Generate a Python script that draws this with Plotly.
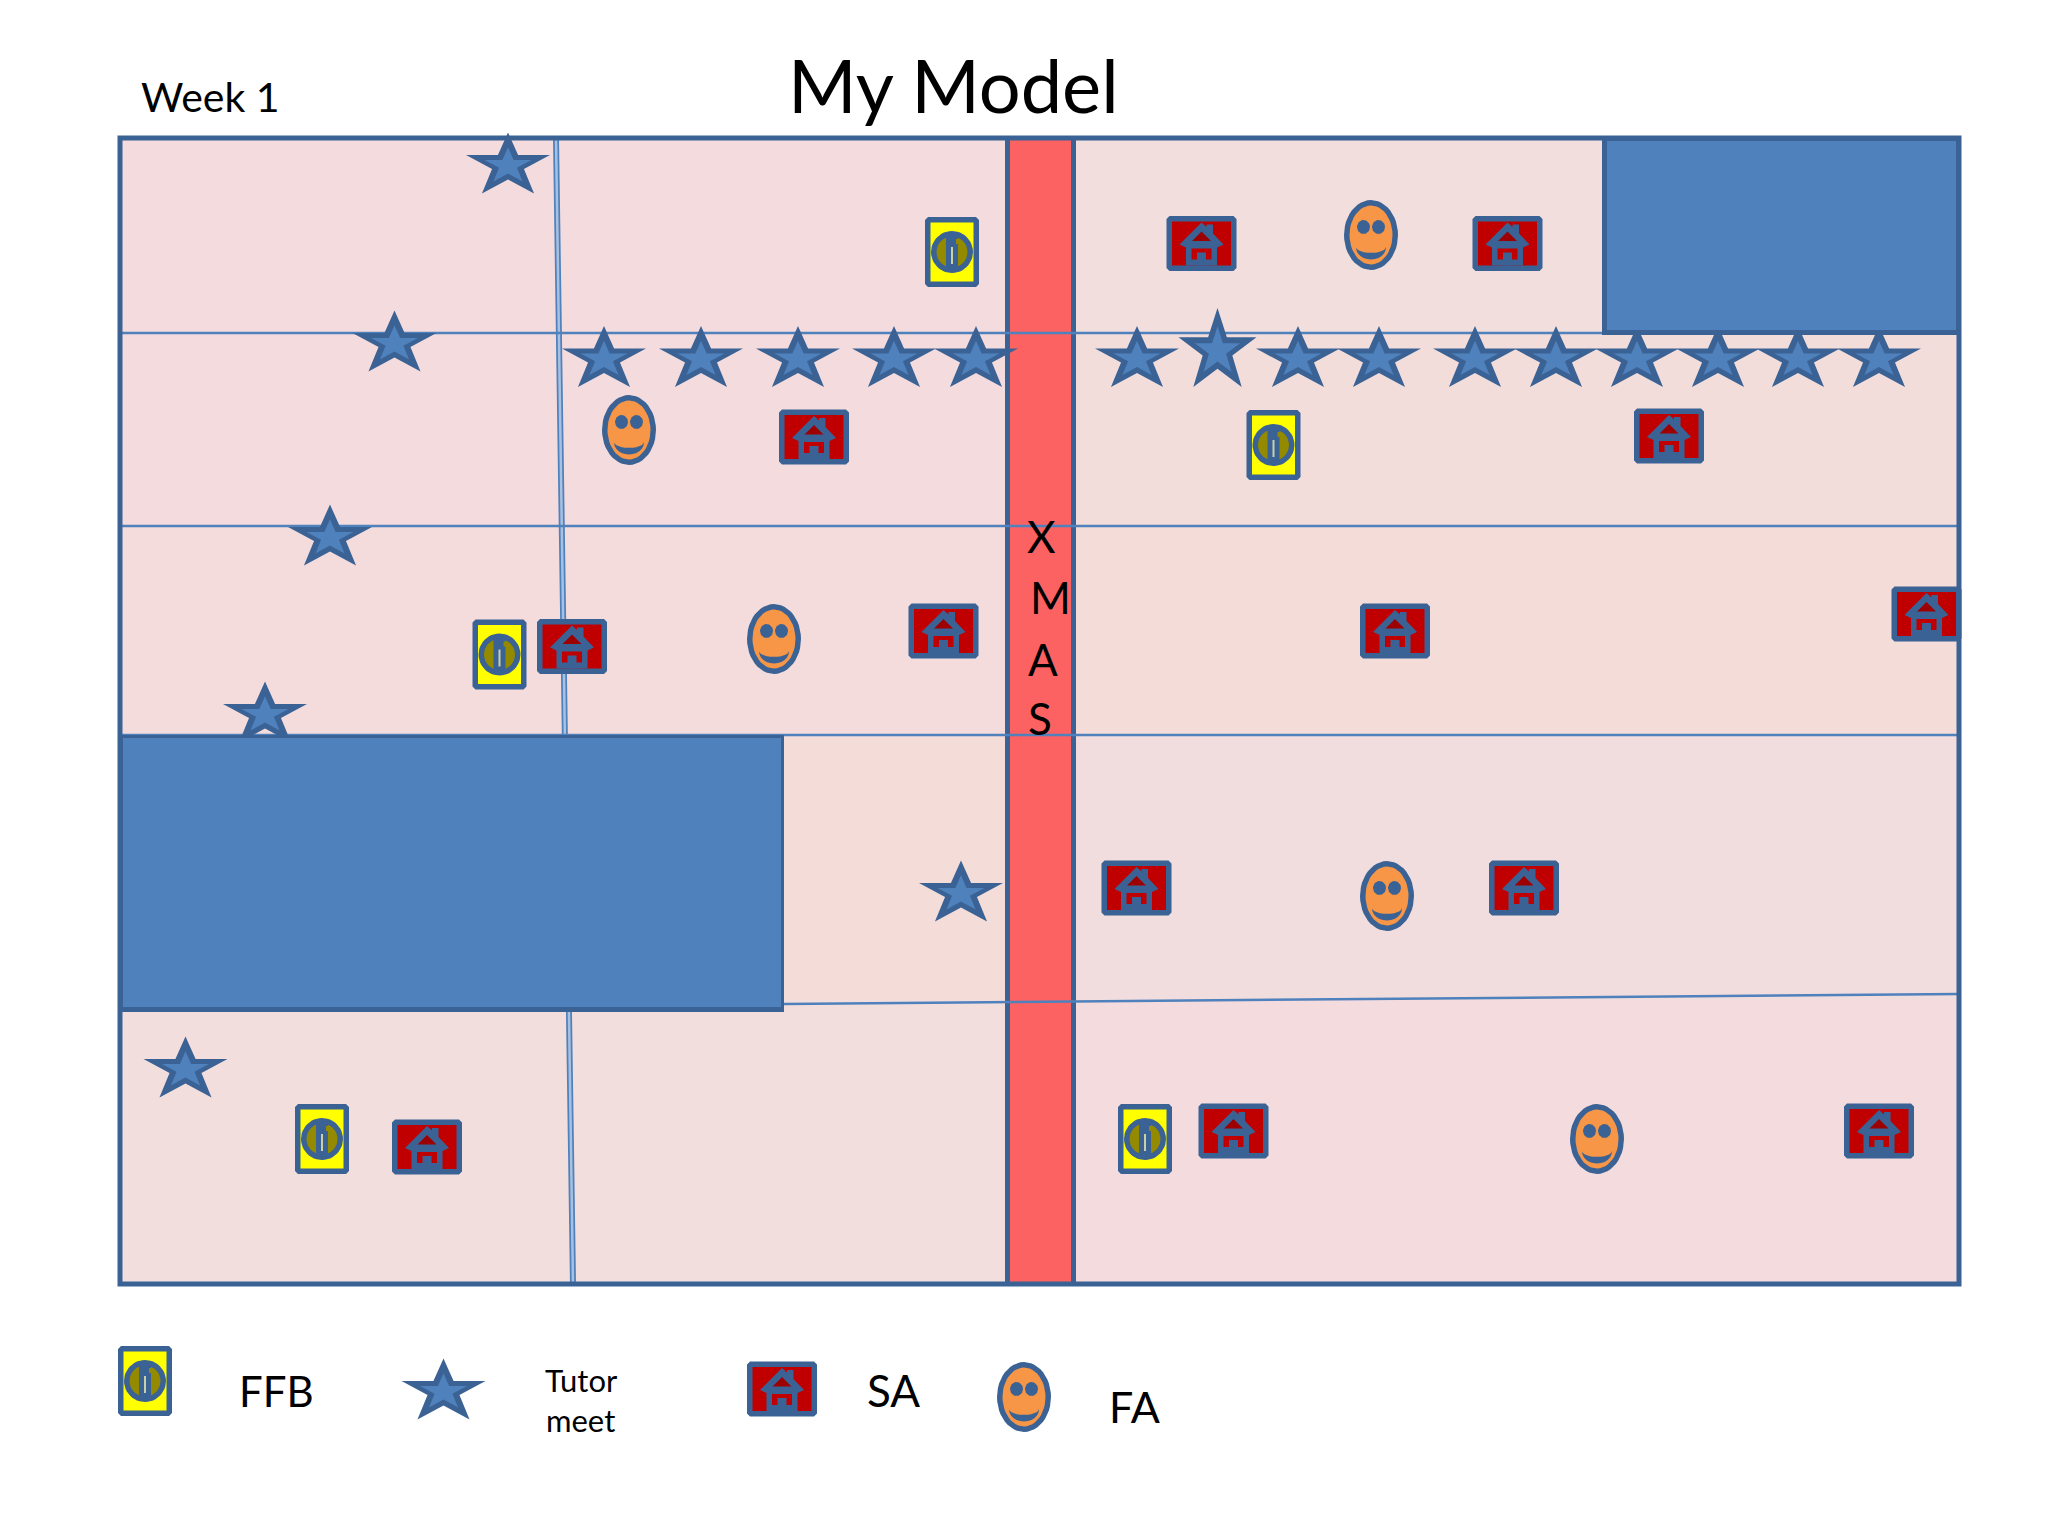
import math
import plotly.graph_objects as go

# page pixels are used as the axis units, this is a drawn diagram not a plot
W, H = 2048, 1536
FONT = "Lato"

# panel grid
panel_x = [120, 1959]
panel_y = [138, 1284]
row_lines_y = [333, 526, 735]
slant_line_x = [784, 1959]
slant_line_y = [1004, 994]
split_line_x = [556, 573]
split_line_y = [138, 1284]
xmas_x = [1007, 1074]
block_top = [1604, 1959, 138, 333]
block_left = [120, 784, 735, 1010]

# faint tint of each row, left and right of the xmas band
tint_rows = [138, 333, 526, 735, 1000, 1284]
tint_left = ["#f4dbdd", "#f4dbdd", "#f4dbdc", "#f4dcd9", "#f2dedd"]
tint_right = ["#f1dedd", "#f3dddb", "#f4dcd9", "#f1dddd", "#f4dbde"]

# tutor meet stars
star_x = [508, 394.5, 330, 265, 961, 185.5,
          604, 701, 798, 894, 976, 1137, 1298, 1379, 1475, 1556, 1637, 1718, 1798, 1879]
star_y = [163, 341, 535, 712, 891, 1067,
          356.5, 356.5, 356.5, 356.5, 356.5, 356.5, 356.5, 356.5, 356.5, 356.5, 356.5, 356.5, 356.5, 356.5]
big_star_x = [1217.5]
big_star_y = [347.5]

ffb_x = [952, 1273.5, 499.5, 322, 1145]
ffb_y = [252, 445, 654.5, 1139, 1139]

sa_x = [1201.5, 1507.5, 814, 1669, 572, 943.5, 1395, 1926.5, 1136.5, 1524, 427, 1233.5, 1879]
sa_y = [243.5, 243.5, 437, 436, 646.5, 631, 631, 614, 888, 888, 1147, 1131, 1131]

fa_x = [1371, 629, 774, 1387, 1597]
fa_y = [235, 430, 639, 896, 1139]

# legend row
legend_ffb = (145, 1381)
legend_star = (443.5, 1389)
legend_sa = (782, 1389)
legend_fa = (1024, 1397)

xmas_letters = ["X", "M", "A", "S"]
xmas_letter_x = [1041, 1050, 1043, 1040]
xmas_letter_y = [536, 597, 659, 718]

DARK = "#3b6294"
BLUE = "#4f81bd"


def rect(x0, x1, y0, y1, cut=0):
    if cut:
        return [x0 + cut, x1 - cut, x1, x1, x1 - cut, x0 + cut, x0, x0, x0 + cut, None], \
               [y0, y0, y0 + cut, y1 - cut, y1, y1, y1 - cut, y0 + cut, y0, None]
    return [x0, x1, x1, x0, x0, None], [y0, y0, y1, y1, y0, None]


def ring(x0, x1, y0, y1, t):
    # four bars, so the corners stay square
    return [rect(x0 - t, x1 + t, y0 - t, y0 + t), rect(x0 - t, x1 + t, y1 - t, y1 + t),
            rect(x0 - t, x0 + t, y0 - t, y1 + t), rect(x1 - t, x1 + t, y0 - t, y1 + t)]


def ellipse(cx, cy, rx, ry):
    xs = [cx + rx * math.cos(i * math.pi / 24) for i in range(49)] + [None]
    ys = [cy + ry * math.sin(i * math.pi / 24) for i in range(49)] + [None]
    return xs, ys


def star(cx, cy, w, h, k=1.0):
    pts = [(.5, 0), (.62, .37), (1, .37), (.69, .6), (.81, 1), (.5, .77), (.19, 1), (.31, .6), (0, .37), (.38, .37), (.5, 0)]
    xs = [cx + (px - .5) * w * k for px, py in pts] + [None]
    ys = [cy + (py - .55) * h * k + .05 * h for px, py in pts] + [None]
    return xs, ys


def smile(cx, cy):
    top = [(cx + 14.5 * math.cos(i * math.pi / 12), cy + 12.5 + 5.5 * math.sin(i * math.pi / 12)) for i in range(13)]
    low = [(cx + 15 * math.cos(i * math.pi / 12), cy + 12.5 + 12 * math.sin(i * math.pi / 12)) for i in range(13)]
    pts = top + low[::-1] + top[:1]
    return [p[0] for p in pts] + [None], [p[1] for p in pts] + [None]


def poly(pts, cx, cy):
    pts = pts + pts[:1]
    return [cx + p[0] for p in pts] + [None], [cy + p[1] for p in pts] + [None]


fig = go.Figure()


def add(parts, color):
    xs, ys = [], []
    for px, py in parts:
        xs += px
        ys += py
    fig.add_trace(go.Scatter(x=xs, y=ys, mode="lines", fill="toself", fillcolor=color,
                             line=dict(width=0, color=color), hoverinfo="skip", showlegend=False))


def add_line(x, y, color, width):
    fig.add_trace(go.Scatter(x=x, y=y, mode="lines", line=dict(color=color, width=width),
                             hoverinfo="skip", showlegend=False))


# panel and its lines
for i in range(len(tint_left)):
    add([rect(panel_x[0], xmas_x[0], tint_rows[i], tint_rows[i + 1])], tint_left[i])
    add([rect(xmas_x[1], panel_x[1], tint_rows[i], tint_rows[i + 1])], tint_right[i])
add_line(split_line_x, split_line_y, BLUE, 6)
add_line(split_line_x, split_line_y, "#a9c1e0", 2.5)

add([rect(xmas_x[0] - 2, xmas_x[1] + 2, panel_y[0], panel_y[1])], DARK)
add([rect(xmas_x[0] + 3, xmas_x[1] - 3, panel_y[0], panel_y[1])], "#fd6262")

for y in row_lines_y:
    add_line(panel_x, [y, y], BLUE, 2.5)
add_line(slant_line_x, slant_line_y, BLUE, 2.5)

# stars
sx = star_x + [legend_star[0]]
sy = star_y + [legend_star[1]]
add([star(x, y, 84, 61) for x, y in zip(sx, sy)], DARK)
add([star(x, y, 84, 61, .56) for x, y in zip(sx, sy)], BLUE)
add([star(x, y, 78, 79) for x, y in zip(big_star_x, big_star_y)], DARK)
add([star(x, y, 78, 79, .58) for x, y in zip(big_star_x, big_star_y)], BLUE)

# blue blocks sit on top of the stars
for b in (block_top, block_left):
    add([rect(b[0] - 2, b[1], b[2], b[3] + 2)], DARK)
    add([rect(b[0] + 3, b[1] - 3, b[2] + 3, b[3] - 3)], BLUE)

# panel border
add(ring(panel_x[0], panel_x[1], panel_y[0], panel_y[1], 2.5), DARK)

# FFB icons
fx = ffb_x + [legend_ffb[0]]
fy = ffb_y + [legend_ffb[1]]
add([rect(x - 27, x + 27, y - 35, y + 35, 3) for x, y in zip(fx, fy)], DARK)
add([rect(x - 21.5, x + 21.5, y - 29.5, y + 29.5) for x, y in zip(fx, fy)], "#ffff00")
add([ellipse(x, y, 21, 21) for x, y in zip(fx, fy)], DARK)
add([ellipse(x, y, 15.5, 15.5) for x, y in zip(fx, fy)], "#948a00")
add([rect(x - 6, x + 6, y - 17, y + 17) for x, y in zip(fx, fy)], DARK)
add([rect(x + 4, x + 7, y - 13, y - 8) for x, y in zip(fx, fy)], "#948a00")
add([rect(x - 1, x + 1, y - 5, y + 12) for x, y in zip(fx, fy)], "#c9cfa6")

# SA icons
hx = sa_x + [legend_sa[0]]
hy = sa_y + [legend_sa[1]]
house = [(0, -21), (5, -16.5), (5, -19), (11.5, -19), (11.5, -10), (22, 1), (15.5, 4), (15.5, 22), (-15.5, 22), (-15.5, 4), (-22, 1)]
roof = [(0, -12), (-9.5, -2.5), (9.5, -2.5)]
add([rect(x - 35, x + 35, y - 27.5, y + 27.5, 3) for x, y in zip(hx, hy)], DARK)
add([rect(x - 29.5, x + 29.5, y - 22, y + 22) for x, y in zip(hx, hy)], "#c00000")
add([poly(house, x, y) for x, y in zip(hx, hy)], DARK)
add([poly(roof, x, y) for x, y in zip(hx, hy)], "#9c0000")
add([rect(x - 10, x + 10, y + 5, y + 16) for x, y in zip(hx, hy)], "#c00000")
add([rect(x - 4.5, x + 4.5, y + 9, y + 22) for x, y in zip(hx, hy)], DARK)

# FA icons
ax = fa_x + [legend_fa[0]]
ay = fa_y + [legend_fa[1]]
add([ellipse(x, y, 27, 35) for x, y in zip(ax, ay)], DARK)
add([ellipse(x, y, 21.5, 29.5) for x, y in zip(ax, ay)], "#f79646")
add([ellipse(x - 7.5, y - 8, 6.5, 7) for x, y in zip(ax, ay)] +
    [ellipse(x + 7.5, y - 8, 6.5, 7) for x, y in zip(ax, ay)], DARK)
add([smile(x, y) for x, y in zip(ax, ay)], DARK)

texts = [
    ("My Model", 953, 84, 74),
    ("Week 1", 210, 96, 41),
    ("FFB", 276, 1391, 42),
    ("Tutor", 581, 1380, 31),
    ("meet", 580, 1420, 31),
    ("SA", 893, 1390, 44),
    ("FA", 1134, 1406, 43),
]
for letter, x, y in zip(xmas_letters, xmas_letter_x, xmas_letter_y):
    texts.append((letter, x, y, 44))
for t, x, y, size in texts:
    fig.add_annotation(x=x, y=y, text=t, showarrow=False, xanchor="center", yanchor="middle",
                       font=dict(family=FONT, size=size, color="#000000"))

fig.update_layout(width=W, height=H, margin=dict(l=0, r=0, t=0, b=0), showlegend=False,
                  paper_bgcolor="#ffffff", plot_bgcolor="#ffffff",
                  xaxis=dict(range=[0, W], visible=False, fixedrange=True),
                  yaxis=dict(range=[H, 0], visible=False, fixedrange=True))

fig.write_html("out.html", config={"displayModeBar": False},
               post_script="document.body.style.margin='0';")
